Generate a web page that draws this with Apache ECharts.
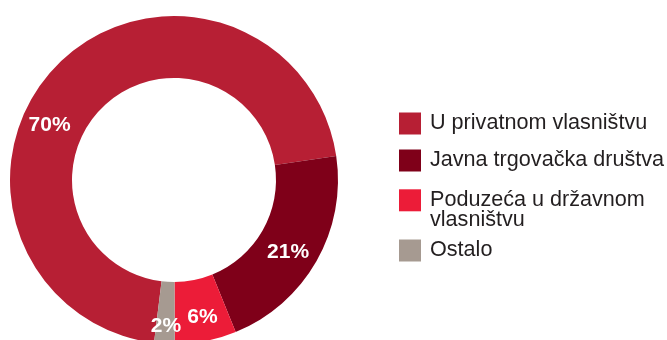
<!DOCTYPE html>
<html>
<head>
<meta charset="utf-8">
<script src="https://cdn.jsdelivr.net/npm/echarts@6/dist/echarts.min.js"></script>
<style>
  html, body { margin: 0; padding: 0; background: #fff; }
  #chart { width: 667px; height: 340px; }
</style>
</head>
<body>
<div id="chart"></div>
<script>
// Ownership structure, share in percent
const categories = [
  'U privatnom vlasništvu',
  'Javna trgovačka društva',
  'Poduzeća u državnom\nvlasništvu',
  'Ostalo'
];
const shares = [70, 21, 6, 2];
const colors = ['#b71f34', '#7f0019', '#ec1c38', '#a69a91'];

// small nudges of the in-ring value labels (px)
const labelNudge = [[-27, 40], [-4, 5], [2, 4], [0, 10]];
// vertical position of each legend row (top of its box)
const legendTops = [112.5, 149.5, 170, 239.5];

const chart = echarts.init(document.getElementById('chart'), null, { renderer: 'canvas' });

const font = "'Liberation Sans', Arial, sans-serif";

// a wrapped legend entry keeps its swatch beside the first line:
// an empty leading line balances the trailing one around the swatch
function legendText(name) {
  const lines = name.split('\n');
  return lines.length > 1 ? '\n'.repeat(lines.length - 1) + name : name;
}

const legends = categories.map((name, i) => ({
  orient: 'vertical',
  left: 399,
  top: legendTops[i],
  padding: 0,
  itemWidth: 22,
  itemHeight: 22,
  icon: 'rect',
  selectedMode: false,
  data: [name],
  formatter: legendText,
  textStyle: {
    fontFamily: font,
    fontSize: 21.6,
    lineHeight: 19.3,
    color: '#231f20',
    padding: [0, 0, 0, 4]
  }
}));

chart.setOption({
  animation: false,
  color: colors,
  legend: legends,
  series: [{
    type: 'pie',
    center: [174, 180],
    radius: [102, 164],
    startAngle: 263,
    clockwise: true,
    avoidLabelOverlap: false,
    emphasis: { disabled: true },
    label: {
      show: true,
      position: 'inside',
      formatter: '{c}%',
      color: '#ffffff',
      fontFamily: font,
      fontWeight: 'bold',
      fontSize: 21
    },
    labelLine: { show: false },
    labelLayout: function (params) {
      const n = labelNudge[params.dataIndex];
      return { dx: n[0], dy: n[1] };
    },
    data: categories.map((name, i) => ({ name: name, value: shares[i] }))
  }]
});
</script>
</body>
</html>
